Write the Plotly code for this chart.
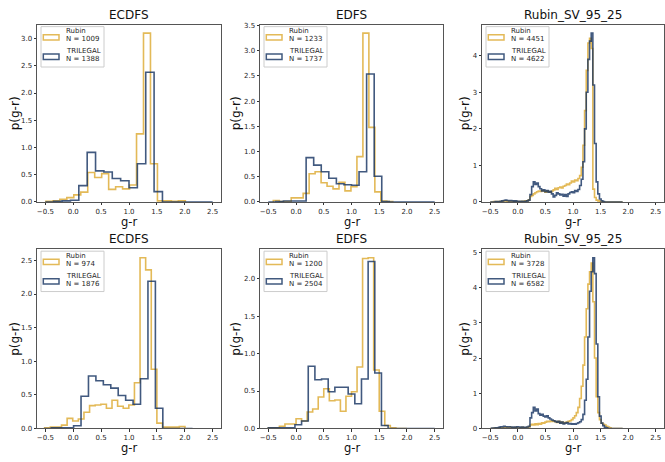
import numpy as np
import plotly.graph_objects as go

FIG_W, FIG_H = 665, 462

# ---------------------------------------------------------------------------
# Data: normalised g-r colour distributions, Rubin vs. TRILEGAL, per field
# ---------------------------------------------------------------------------
field_titles = ["ECDFS", "EDFS", "Rubin_SV_95_25", "ECDFS", "EDFS", "Rubin_SV_95_25"]
rubin_counts = [1009, 1233, 4451, 974, 1200, 3728]
trilegal_counts = [1388, 1737, 4622, 1876, 2504, 6582]

# histogram ranges (first edge, last edge); bins are equal width in between
rubin_lo = [-0.49, -0.41, -0.5, -0.512, -0.5, -0.5]
rubin_hi = [2.01, 1.744, 1.9, 2.003, 2.0, 1.9]
trilegal_lo = [-0.5, -0.5, -0.5, -0.527, -0.5, -0.5]
trilegal_hi = [2.5, 2.5, 1.9, 2.14, 2.5, 1.9]

rubin_density = [
    [0.01, 0.02, 0.05, 0.08, 0.13, 0.18, 0.54, 0.45, 0.52, 0.23,
     0.28, 0.24, 0.31, 1.25, 3.10, 0.70, 0.02, 0.02, 0.01, 0.02],
    [0.03, 0.01, 0.01, 0.08, 0.08, 0.17, 0.56, 0.60, 0.38, 0.31,
     0.26, 0.39, 0.22, 0.30, 0.90, 3.35, 1.48, 0.20, 0.02, 0.01],
    [0.0, 0.0, 0.01, 0.01, 0.01, 0.01, 0.02, 0.02, 0.03, 0.03,
     0.02, 0.02, 0.02, 0.01, 0.02, 0.01, 0.01, 0.01, 0.01, 0.02,
     0.02, 0.03, 0.03, 0.06, 0.15, 0.18, 0.22, 0.25, 0.28, 0.30,
     0.29, 0.31, 0.30, 0.27, 0.30, 0.28, 0.27, 0.30, 0.33, 0.37,
     0.34, 0.39, 0.41, 0.38, 0.43, 0.45, 0.49, 0.47, 0.52, 0.57,
     0.55, 0.60, 0.58, 0.64, 0.72, 0.95, 1.55, 2.50, 3.60, 4.35,
     4.48, 4.20, 0.35, 0.12, 0.05, 0.03, 0.02, 0.01, 0.0, 0.0,
     0.0, 0.0, 0.0, 0.0, 0.0, 0.0, 0.0, 0.0, 0.0, 0.0],
    [0.01, 0.02, 0.02, 0.05, 0.15, 0.11, 0.14, 0.24, 0.34, 0.35,
     0.36, 0.30, 0.42, 0.33, 0.30, 0.35, 0.68, 2.54, 2.36, 0.88,
     0.08, 0.02, 0.02, 0.02, 0.03],
    [0.01, 0.01, 0.03, 0.06, 0.06, 0.13, 0.10, 0.22, 0.26, 0.42,
     0.53, 0.37, 0.38, 0.23, 0.43, 0.49, 0.82, 2.27, 2.28, 0.78,
     0.23, 0.04, 0.01, 0.0, 0.0],
    [0.0, 0.0, 0.01, 0.01, 0.01, 0.02, 0.01, 0.02, 0.02, 0.03,
     0.02, 0.02, 0.03, 0.02, 0.02, 0.03, 0.02, 0.02, 0.02, 0.03,
     0.02, 0.02, 0.03, 0.04, 0.10, 0.12, 0.10, 0.13, 0.11, 0.14,
     0.12, 0.16, 0.15, 0.18, 0.20, 0.19, 0.21, 0.20, 0.22, 0.19,
     0.17, 0.20, 0.16, 0.18, 0.15, 0.17, 0.18, 0.20, 0.22, 0.25,
     0.30, 0.36, 0.45, 0.60, 0.85, 1.20, 1.80, 2.60, 3.40, 4.10,
     4.45, 4.70, 3.60, 2.00, 0.90, 0.45, 0.25, 0.15, 0.12, 0.10,
     0.06, 0.04, 0.02, 0.0, 0.0, 0.0, 0.0, 0.0, 0.0, 0.0],
]

trilegal_density = [
    [0.0, 0.01, 0.02, 0.03, 0.30, 0.91, 0.57, 0.55, 0.43, 0.39,
     0.26, 0.70, 2.38, 0.19, 0.0, 0.0, 0.0, 0.0, 0.0, 0.0],
    [0.0, 0.01, 0.02, 0.02, 0.02, 0.88, 0.73, 0.60, 0.47, 0.36,
     0.34, 0.33, 0.60, 2.54, 0.51, 0.01, 0.0, 0.0, 0.0, 0.0,
     0.0, 0.0],
    [0.0, 0.0, 0.0, 0.01, 0.01, 0.01, 0.02, 0.03, 0.04, 0.05,
     0.04, 0.03, 0.04, 0.03, 0.02, 0.03, 0.02, 0.02, 0.01, 0.02,
     0.01, 0.02, 0.03, 0.05, 0.20, 0.42, 0.55, 0.48, 0.52, 0.42,
     0.36, 0.30, 0.33, 0.28, 0.31, 0.27, 0.29, 0.22, 0.14, 0.18,
     0.25, 0.22, 0.19, 0.21, 0.16, 0.20, 0.15, 0.22, 0.26, 0.28,
     0.25, 0.31, 0.29, 0.34, 0.45, 0.62, 1.10, 2.00, 3.00, 3.90,
     4.40, 4.62, 3.20, 1.60, 0.55, 0.22, 0.08, 0.03, 0.01, 0.0,
     0.0, 0.0, 0.0, 0.0, 0.0, 0.0, 0.0, 0.0, 0.0, 0.0],
    [0.0, 0.01, 0.01, 0.01, 0.04, 0.48, 0.78, 0.71, 0.65, 0.60,
     0.49, 0.42, 0.36, 0.74, 2.19, 0.30, 0.0, 0.0, 0.0, 0.0],
    [0.01, 0.01, 0.01, 0.01, 0.05, 0.10, 0.83, 0.65, 0.66, 0.49,
     0.55, 0.55, 0.46, 0.33, 0.66, 2.23, 0.74, 0.04, 0.0, 0.0,
     0.0, 0.0, 0.0, 0.0, 0.0],
    [0.0, 0.01, 0.01, 0.02, 0.02, 0.03, 0.05, 0.04, 0.06, 0.05,
     0.04, 0.05, 0.04, 0.03, 0.04, 0.03, 0.05, 0.04, 0.03, 0.04,
     0.03, 0.03, 0.04, 0.06, 0.30, 0.45, 0.60, 0.50, 0.55, 0.42,
     0.38, 0.40, 0.35, 0.33, 0.36, 0.30, 0.27, 0.24, 0.22, 0.20,
     0.18, 0.20, 0.15, 0.18, 0.13, 0.15, 0.17, 0.13, 0.14, 0.12,
     0.13, 0.12, 0.14, 0.16, 0.19, 0.25, 0.40, 0.80, 1.40, 2.60,
     3.90, 4.45, 4.85, 4.40, 2.40, 0.90, 0.35, 0.15, 0.08, 0.03,
     0.02, 0.0, 0.0, 0.0, 0.0, 0.0, 0.0, 0.0, 0.0, 0.0],
]

x_ticks = [-0.5, 0.0, 0.5, 1.0, 1.5, 2.0, 2.5]
y_dtick = [0.5, 0.5, 1, 0.5, 0.5, 1]

# ---------------------------------------------------------------------------
# Styling / layout
# ---------------------------------------------------------------------------
RUBIN_COLOR = "#DDA92F"
TRILEGAL_COLOR = "#12305F"
LINE_ALPHA = 0.8
FONT = "DejaVu Sans"
TEXT_COLOR = "#262626"

col_px = [(37, 221), (260, 443), (482, 664)]   # plot-area left/right, px
row_px = [(22, 202), (250, 432)]               # plot-area top/bottom, px
ylabel_px = [15, 236, 465]


def px_x(x):
    return x / FIG_W


def px_y(y):
    return 1 - y / FIG_H


def step_outline(lo, hi, dens):
    """Outline of a step histogram from bin range and per-bin density."""
    edges = np.linspace(lo, hi, len(dens) + 1)
    xs = [edges[0]] + list(edges[:-1]) + [edges[-1]]
    ys = [0.0] + list(dens) + [0.0]
    return xs, ys


fig = go.Figure()
layout = dict(
    width=FIG_W, height=FIG_H, autosize=False,
    margin=dict(l=0, r=0, t=0, b=0),
    paper_bgcolor="white", plot_bgcolor="white",
    font=dict(family=FONT, color=TEXT_COLOR),
    showlegend=False,
)
annotations = []
shapes = []

for i in range(6):
    r, c = divmod(i, 3)
    left, right = col_px[c]
    top, bottom = row_px[r]
    sfx = "" if i == 0 else str(i + 1)
    xa, ya = "x" + sfx, "y" + sfx

    for lo, hi, dens, color in (
        (rubin_lo[i], rubin_hi[i], rubin_density[i], RUBIN_COLOR),
        (trilegal_lo[i], trilegal_hi[i], trilegal_density[i], TRILEGAL_COLOR),
    ):
        xs, ys = step_outline(lo, hi, dens)
        fig.add_trace(go.Scatter(
            x=xs, y=ys, mode="lines", xaxis=xa, yaxis=ya,
            line=dict(shape="hv", color=color, width=1.6),
            opacity=LINE_ALPHA, hoverinfo="skip",
        ))

    ymax = 1.05 * max(max(rubin_density[i]), max(trilegal_density[i]))
    axis_common = dict(
        showgrid=False, zeroline=False, showline=True, mirror=True,
        linecolor="#555555", linewidth=1,
        ticks="outside", ticklen=2.5, tickwidth=1, tickcolor="#333333",
        tickfont=dict(family=FONT, size=7, color=TEXT_COLOR),
    )
    layout["xaxis" + sfx] = dict(
        domain=[px_x(left), px_x(right)], anchor=ya,
        range=[-0.65, 2.65], tickmode="array", tickvals=x_ticks,
        tickformat=".1f", **axis_common,
    )
    layout["yaxis" + sfx] = dict(
        domain=[px_y(bottom), px_y(top)], anchor=xa,
        range=[0, ymax], tick0=0, dtick=y_dtick[i],
        tickformat="d" if y_dtick[i] == 1 else ".1f", **axis_common,
    )

    # panel title and axis labels
    annotations.append(dict(
        text=field_titles[i], xref="paper", yref="paper",
        x=px_x((left + right) / 2), y=px_y(top - 10),
        xanchor="center", yanchor="middle", showarrow=False,
        font=dict(size=12, family=FONT, color="#111111"),
    ))
    annotations.append(dict(
        text="g-r", xref="paper", yref="paper",
        x=px_x((left + right) / 2), y=px_y(bottom + 20),
        xanchor="center", yanchor="middle", showarrow=False,
        font=dict(size=11.5, family=FONT, color="#111111"),
    ))
    annotations.append(dict(
        text="p(g-r)", xref="paper", yref="paper", textangle=-90,
        x=px_x(ylabel_px[c]), y=px_y((top + bottom) / 2),
        xanchor="center", yanchor="middle", showarrow=False,
        font=dict(size=12, family=FONT, color="#111111"),
    ))

    # legend box
    fx, fy = left + 4, top + 2
    shapes.append(dict(
        type="rect", xref="paper", yref="paper", layer="above",
        x0=px_x(fx), x1=px_x(fx + 63), y0=px_y(fy + 41), y1=px_y(fy),
        line=dict(color="#cccccc", width=1),
        fillcolor="rgba(255,255,255,0.8)",
    ))
    entries = [
        (RUBIN_COLOR, "Rubin", rubin_counts[i], 8.3, 13.5, 4.6, 12.6),
        (TRILEGAL_COLOR, "TRILEGAL", trilegal_counts[i], 27.9, 33.3, 24.8, 33.2),
    ]
    for color, name, n, p0, p1, t0, t1 in entries:
        shapes.append(dict(
            type="rect", xref="paper", yref="paper", layer="above",
            x0=px_x(fx + 2.3), x1=px_x(fx + 18), y0=px_y(fy + p1), y1=px_y(fy + p0),
            line=dict(color=color, width=1.5), fillcolor="rgba(0,0,0,0)",
            opacity=LINE_ALPHA,
        ))
        for txt, ty in ((name, t0), (f"N = {n}", t1)):
            annotations.append(dict(
                text=txt, xref="paper", yref="paper",
                x=px_x(fx + 23), y=px_y(fy + ty),
                xanchor="left", yanchor="middle", showarrow=False,
                font=dict(size=7, family=FONT, color=TEXT_COLOR),
            ))

layout["annotations"] = annotations
layout["shapes"] = shapes
fig.update_layout(**layout)
fig.write_html("out.html")
